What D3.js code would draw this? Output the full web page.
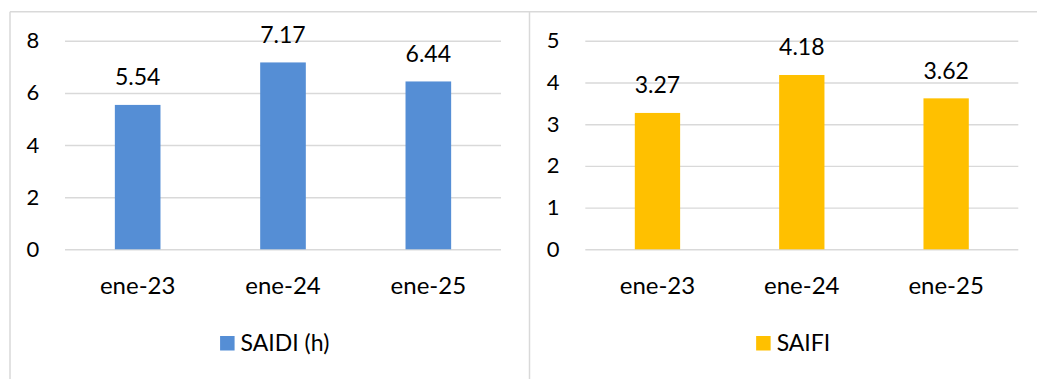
<!DOCTYPE html>
<html>
<head>
<meta charset="utf-8">
<script src="https://cdn.jsdelivr.net/npm/d3@7"></script>
<style>
  html, body { margin: 0; padding: 0; background: #fff; }
  svg { display: block; }
  text { font-family: Lato, "Open Sans", sans-serif; fill: #000; }
</style>
</head>
<body>
<svg id="chart" width="1037" height="379"></svg>
<script>
// ---- data ----
const categories = ["ene-23", "ene-24", "ene-25"];
const saidiValues = [5.54, 7.17, 6.44];
const saifiValues = [3.27, 4.18, 3.62];
const saidiTicks = [0, 2, 4, 6, 8];
const saifiTicks = [0, 1, 2, 3, 4, 5];
const saidiName = "SAIDI (h)";
const saifiName = "SAIFI";

// ---- layout ----
const svg = d3.select("#chart");
const gridColor = "#d9d9d9";

// outer frame lines
const frameTop = 11.7;
svg.append("line").attr("x1", 10).attr("x2", 1037).attr("y1", frameTop).attr("y2", frameTop)
  .attr("stroke", gridColor).attr("stroke-width", 1.5);
[10, 529.5].forEach(x => {
  svg.append("line").attr("x1", x).attr("x2", x).attr("y1", frameTop).attr("y2", 379)
    .attr("stroke", gridColor).attr("stroke-width", 1.5);
});

const panels = [
  { values: saidiValues, ticks: saidiTicks, name: saidiName, color: "#558ED5",
    x0: 65, x1: 501, yTop: 40.8, yBottom: 249.3, legendCenter: 274.7 },
  { values: saifiValues, ticks: saifiTicks, name: saifiName, color: "#FFC000",
    x0: 585.3, x1: 1018.3, yTop: 40.8, yBottom: 249.3, legendCenter: 793.2 }
];

panels.forEach(p => {
  const g = svg.append("g");
  const x = d3.scaleBand().domain(categories).range([p.x0, p.x1])
    .paddingInner(0.686).paddingOuter(0.343);
  const y = d3.scaleLinear().domain([0, d3.max(p.ticks)]).range([p.yBottom, p.yTop]);

  // gridlines
  const grid = g.append("g").attr("transform", `translate(${p.x0},0)`)
    .call(d3.axisLeft(y).tickValues(p.ticks).tickSize(-(p.x1 - p.x0)).tickFormat(""));
  grid.select(".domain").remove();
  grid.selectAll("line").attr("stroke", gridColor).attr("stroke-width", 1.4);

  // y tick labels
  const ya = g.append("g").attr("transform", `translate(${p.x0},0)`)
    .call(d3.axisLeft(y).tickValues(p.ticks).tickSize(0).tickPadding(25.7).tickFormat(d3.format("d")));
  ya.select(".domain").remove();
  ya.selectAll("text").style("font-size", "22px").attr("fill", "#000");

  // bars
  g.selectAll("rect.bar").data(p.values).join("rect").attr("class", "bar")
    .attr("x", (d, i) => x(categories[i]))
    .attr("width", x.bandwidth())
    .attr("y", d => y(d))
    .attr("height", d => y(0) - y(d))
    .attr("fill", p.color);

  // data labels
  g.selectAll("text.lbl").data(p.values).join("text").attr("class", "lbl")
    .attr("x", (d, i) => x(categories[i]) + x.bandwidth() / 2)
    .attr("y", d => y(d) - 19.8)
    .attr("text-anchor", "middle")
    .style("font-size", "23px")
    .text(d => d3.format(".2f")(d));

  // x axis labels
  const xa = g.append("g").attr("transform", `translate(0,${p.yBottom})`)
    .call(d3.axisBottom(x).tickSize(0));
  xa.select(".domain").remove();
  xa.selectAll("text").attr("y", 44.7).attr("dy", 0).style("font-size", "24px").attr("fill", "#000");

  // legend
  const lg = g.append("g");
  const sw = 14.5, gap = 6;
  const lt = lg.append("text").attr("y", 351).style("font-size", "23px").text(p.name);
  const tw = lt.node().getComputedTextLength();
  const total = sw + gap + tw;
  const lx = p.legendCenter - total / 2;
  lg.append("rect").attr("x", lx).attr("y", 336).attr("width", sw).attr("height", sw).attr("fill", p.color);
  lt.attr("x", lx + sw + gap);
});
</script>
</body>
</html>
